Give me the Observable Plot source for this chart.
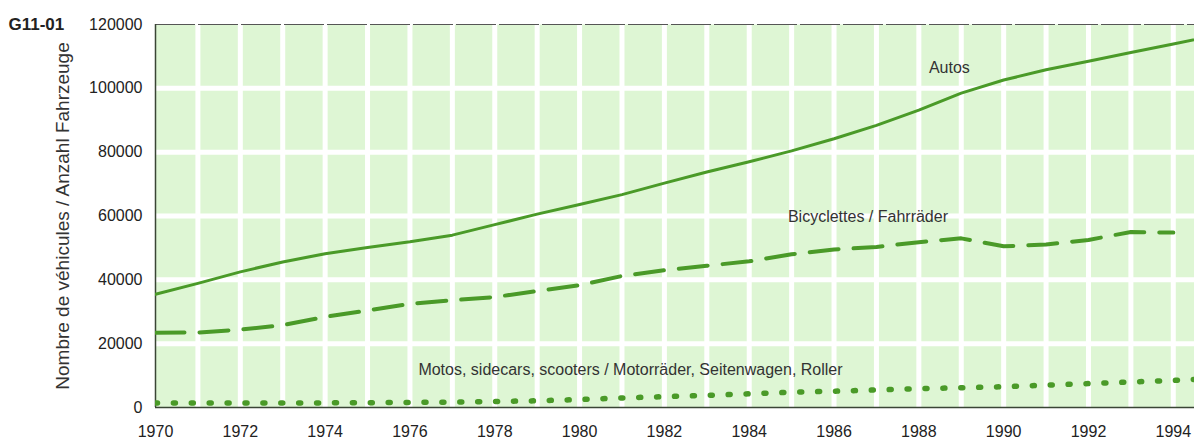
<!DOCTYPE html>
<html>
<head>
<meta charset="utf-8">
<script src="https://cdn.jsdelivr.net/npm/d3@7"></script>
<script src="https://cdn.jsdelivr.net/npm/@observablehq/plot@0.6"></script>
<style>
  html, body { margin: 0; padding: 0; background: #fff; }
</style>
</head>
<body>
<div id="chart"></div>
<script>
// Data (vehicles)
const years = [1970, 1971, 1972, 1973, 1974, 1975, 1976, 1977, 1978, 1979, 1980, 1981, 1982,
               1983, 1984, 1985, 1986, 1987, 1988, 1989, 1990, 1991, 1992, 1993, 1994, 1995];
const autos = [35500, 38900, 42500, 45600, 48200, 50100, 51900, 54000, 57300, 60600, 63600, 66700, 70300,
               73800, 77000, 80400, 84200, 88400, 93200, 98500, 102600, 105800, 108500, 111200, 113900, 116600];
const bicycles = [23400, 23500, 24400, 25800, 28400, 30400, 32500, 33600, 34600, 36500, 38300, 41200, 43000,
                  44400, 45800, 48000, 49500, 50300, 51800, 53000, 50500, 51100, 52500, 55000, 54800, null];
const motos = [1400, 1400, 1400, 1400, 1450, 1500, 1600, 1700, 1900, 2100, 2500, 3000, 3400,
               3800, 4300, 4800, 5100, 5500, 5900, 6200, 6500, 7000, 7500, 8000, 8500, 9100];

const xTicks = [1970, 1972, 1974, 1976, 1978, 1980, 1982, 1984, 1986, 1988, 1990, 1992, 1994];
const yTicks = [0, 20000, 40000, 60000, 80000, 100000, 120000];

const seriesLabels = [
  {text: "Autos", year: 1988.72, value: 106500},
  {text: "Bicyclettes / Fahrräder", year: 1986.8, value: 59700},
  {text: "Motos, sidecars, scooters / Motorräder, Seitenwagen, Roller", year: 1981.2, value: 11700}
];

const chartId = "G11-01";
const yTitle = "Nombre de véhicules / Anzahl Fahrzeuge";

const table = years.map((year, i) => ({year, autos: autos[i], bicycles: bicycles[i], motos: motos[i]}));

const green = "#4a9a28";

const plot = Plot.plot({
  width: 1194,
  height: 440,
  marginTop: 24,
  marginBottom: 33,
  marginLeft: 155,
  marginRight: 0,
  style: {fontFamily: "'Liberation Sans', Arial, sans-serif", fontSize: "16px", color: "#222", background: "#fff", overflow: "visible"},
  x: {domain: [1970, 1994.5]},
  y: {domain: [0, 120000]},
  marks: [
    Plot.frame({fill: "#def6d4", stroke: null}),
    Plot.gridX(d3.range(1971, 1995), {stroke: "#fff", strokeWidth: 5, strokeOpacity: 1}),
    Plot.gridY(yTicks.slice(1, -1), {stroke: "#fff", strokeWidth: 5, strokeOpacity: 1}),
    Plot.ruleY([120000], {stroke: "#555", strokeWidth: 1, strokeDasharray: "40,3"}),
    Plot.ruleX([1970], {stroke: "#3a4535", strokeWidth: 1.5}),
    Plot.ruleY([0], {stroke: "#3a4535", strokeWidth: 1.5}),
    Plot.axisX(xTicks, {tickSize: 0, tickPadding: 18, tickFormat: d => String(d), label: null, fill: "#222"}),
    Plot.axisY(yTicks, {tickSize: 0, tickPadding: 13, tickFormat: d => String(d), label: null, fill: "#222"}),
    Plot.line(table, {x: "year", y: "motos", stroke: green, strokeWidth: 5.5, strokeDasharray: "2,15.9", strokeLinecap: "round", clip: true}),
    Plot.line(table, {x: "year", y: "bicycles", stroke: green, strokeWidth: 4, strokeDasharray: "29,15", clip: true}),
    Plot.line(table, {x: "year", y: "autos", stroke: green, strokeWidth: 3, clip: true}),
    Plot.text(seriesLabels, {x: "year", y: "value", text: "text", fontSize: 16, fill: "#333"}),
    Plot.text([yTitle], {frameAnchor: "left", dx: -93, rotate: -90, textAnchor: "middle", lineAnchor: "middle", fontSize: 19, fill: "#333"}),
    Plot.text([chartId], {frameAnchor: "top-left", dx: -147, textAnchor: "start", lineAnchor: "middle", fontWeight: "bold", fontSize: 17, fill: "#222"})
  ]
});

document.getElementById("chart").appendChild(plot);
</script>
</body>
</html>
